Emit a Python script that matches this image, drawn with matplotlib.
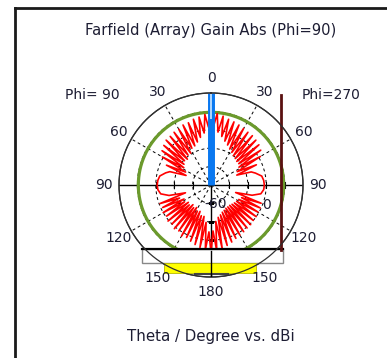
import numpy as np
import matplotlib
matplotlib.use("Agg")
import matplotlib.pyplot as plt
from matplotlib.patches import Rectangle
from matplotlib.lines import Line2D

# ---------------- data (dBi) ----------------
# Phi=270 half (drawn on the right, theta clockwise from top)
theta_right = [0, 2.5, 5, 7.5, 10, 12.5, 15, 17.5, 20, 22.5, 25, 27.5, 30, 32.5, 35, 37.5, 40,
               42.5, 45, 47.5, 50, 52.5, 55, 57.5, 60, 63, 66, 69, 72, 75, 80, 85, 90, 95, 100,
               104, 107, 110, 112.5, 115, 117.5, 120, 122.5, 125, 127.5, 130, 132.5, 135, 137.5,
               140, 142.5, 145, 147.5, 150, 152.5, 155, 157.5, 160, 162.5, 165, 167.5, 170,
               172.5, 175, 177.5, 180]
gain_right = [16, 4, 18, -2, 16, -6, 14, -10, 13, -13, 12, -16, 11, -18, 10, -20, 10,
              -21, 9, -22, 8, -22, 6, -24, 2, -28, -6, -30, -14, -10, -4, -2.5, -2, -2.5, -5,
              -14, -32, -2, -24, -1, -26, -1, -27, 0, -28, 0, -29, 1, -30,
              1, -30, 2, -30, 3, -29, 4, -28, 6, -26, 8, -24, 10,
              -20, 12, -10, 14]
# Phi=90 half (drawn on the left)
theta_left = [0, 2.5, 5, 7.5, 10, 12.5, 15, 17.5, 20, 22.5, 25, 27.5, 30, 32.5, 35, 37.5, 40,
              42.5, 45, 47.5, 50, 52.5, 55, 57.5, 60, 63, 66, 69, 72, 75, 80, 85, 90, 95, 100,
              104, 107, 110, 112.5, 115, 117.5, 120, 122.5, 125, 127.5, 130, 132.5, 135, 137.5,
              140, 142.5, 145, 147.5, 150, 152.5, 155, 157.5, 160, 162.5, 165, 167.5, 170,
              172.5, 175, 177.5, 180]
gain_left = [16, 3, 17, -3, 15, -7, 14, -11, 12, -14, 12, -15, 10, -19, 10, -19, 9,
             -22, 9, -21, 7, -23, 5, -25, 1, -29, -7, -31, -13, -9, -3.5, -2, -1.5, -2, -4.5,
             -13, -31, -1, -23, -2, -27, 0, -26, -1, -29, 1, -28, 0, -31,
             2, -29, 1, -31, 4, -28, 3, -29, 5, -25, 7, -25, 9,
             -19, 11, -9, 14]

main_beam_theta = [0, 0]
main_beam_gain = [-60, 40]
main_lobe_level = 19.0

r_ticks = [-40, -20, 0, 20]
theta_labels = [0, 30, 60, 90, 120, 150, 180]

# ---------------- figure ----------------
W, H = 387, 358
fig = plt.figure(figsize=(W / 100, H / 100), dpi=100)
fig.patch.set_facecolor("white")
plt.rcParams["font.family"] = ["DejaVu Sans"]
txt_col = "#1d1d33"

cx, cy, R = 211, 185, 92
ax = fig.add_axes([(cx - R) / W, (H - cy - R) / H, 2 * R / W, 2 * R / H], projection="polar")
ax.set_theta_zero_location("N")
ax.set_theta_direction(-1)
ax.set_ylim(-60, 40)
ax.set_rticks(r_ticks)
ax.set_thetagrids(np.arange(0, 360, 30), labels=[])
ax.set_yticklabels([])
ax.grid(True, color="black", linestyle=(0, (3, 3)), linewidth=0.7)
ax.spines["polar"].set_color("#303030")
ax.spines["polar"].set_linewidth(0.9)
ax.tick_params(length=0)

def px2dB(p):
    return p / 0.92 - 60

# solid axes lines
ax.plot(np.radians([90, 90]), [-60, 40], color="black", lw=1.0, zorder=2)
ax.plot(np.radians([270, 270]), [-60, 40], color="black", lw=1.0, zorder=2)
ax.plot(np.radians([180, 180]), [-60, 40], color="black", lw=1.0, zorder=2)
for ang in (90, 270):
    ax.plot(np.radians([ang] * len(r_ticks)), r_ticks, linestyle="none", marker="|",
            markersize=4, color="black", mew=0.8, zorder=2)
ax.plot(np.radians([180] * len(r_ticks)), r_ticks, linestyle="none", marker="_",
        markersize=4, color="black", mew=0.8, zorder=2)

# green main-lobe circle
tt = np.linspace(0, 2 * np.pi, 361)
ax.plot(tt, np.full_like(tt, main_lobe_level), color="#6b9a2c", lw=2.3, zorder=3)

# red pattern
th_full = np.concatenate([-np.radians(theta_left[::-1]), np.radians(theta_right)])
g_full = np.concatenate([np.array(gain_left[::-1]), np.array(gain_right)])
ax.plot(th_full, g_full, color="#ff0000", lw=1.2, zorder=4)

# blue main beam
ax.plot(np.radians(main_beam_theta), main_beam_gain, color="#0a78f0", lw=5, zorder=5,
        solid_capstyle="butt")
ax.plot(np.radians(main_beam_theta), [12, 39], color="#bfe0ff", lw=1.3, zorder=5,
        solid_capstyle="butt")

def f(dx, dy):
    return 0.5 + dx / (2 * R), 0.5 + dy / (2 * R)

# white box with black top, yellow band, brown marker line
x0, y0 = f(142 - cx, -(263 - cy))
x1, y1 = f(283 - cx, -(249 - cy))
ax.add_patch(Rectangle((x0, y0), x1 - x0, y1 - y0, transform=ax.transAxes, facecolor="white",
                       edgecolor="#888888", lw=1.0, clip_on=False, zorder=6))
ax.add_artist(Line2D([x0, x1], [y1, y1], transform=ax.transAxes, color="black", lw=1.6,
                     clip_on=False, zorder=7))
yx0, yy0 = f(164 - cx, -(273 - cy))
yx1, yy1 = f(256 - cx, -(263 - cy))
ax.add_patch(Rectangle((yx0, yy0), yx1 - yx0, yy1 - yy0, transform=ax.transAxes,
                       facecolor="#ffff00", edgecolor="#b8b800", lw=0.6, clip_on=False, zorder=6))
bx0, by = f(195 - cx, -(273.5 - cy))
bx1, _ = f(228 - cx, 0)
ax.add_artist(Line2D([bx0, bx1], [by, by], transform=ax.transAxes, color="#444444", lw=1.5,
                     clip_on=False, zorder=7))
lx, ly0 = f(281 - cx, -(95 - cy))
_, ly1 = f(0, -(250 - cy))
ax.add_artist(Line2D([lx, lx], [ly0, ly1], transform=ax.transAxes, color="#5a1010", lw=2.0,
                     clip_on=False, zorder=7))
# outer circle and vertical line redrawn above the box
ax.plot(tt, np.full_like(tt, 40), color="#303030", lw=0.9, zorder=8, clip_on=False)
ax.plot(np.radians([180, 180]), [12, 40], color="black", lw=1.0, zorder=8)

# theta labels
rl = px2dB(107)
for t in theta_labels:
    ax.text(np.radians(t), rl, str(t), ha="center", va="center", fontsize=10,
            color=txt_col, clip_on=False, zorder=9)
    if t not in (0, 180):
        ax.text(-np.radians(t), rl, str(t), ha="center", va="center", fontsize=10,
                color=txt_col, clip_on=False, zorder=9)

# radial labels
ax.annotate("-60", xy=(np.radians(90), -60), xytext=(3, -13.7), textcoords="offset points",
            ha="center", va="center", fontsize=10, color=txt_col, zorder=9)
ax.annotate("0", xy=(np.radians(90), 0), xytext=(0, -14.4), textcoords="offset points",
            ha="center", va="center", fontsize=10, color=txt_col, zorder=9)

# texts
fig.text(211 / W, 1 - 31 / H, "Farfield (Array) Gain Abs (Phi=90)", ha="center", va="center",
         fontsize=10.6, color=txt_col)
fig.text(211 / W, 1 - 337 / H, "Theta / Degree vs. dBi", ha="center", va="center",
         fontsize=10.8, color=txt_col)
fig.text(92 / W, 1 - 95 / H, "Phi= 90", ha="center", va="center", fontsize=10, color=txt_col)
fig.text(331 / W, 1 - 95 / H, "Phi=270", ha="center", va="center", fontsize=10, color=txt_col)

# frame
fig.add_artist(Line2D([15 / W, 15 / W], [0, 1 - 8 / H], color="#1a1a1a", lw=2))
fig.add_artist(Line2D([15 / W, 1], [1 - 8 / H, 1 - 8 / H], color="#1a1a1a", lw=2))

fig.savefig("out.png", dpi=100)
